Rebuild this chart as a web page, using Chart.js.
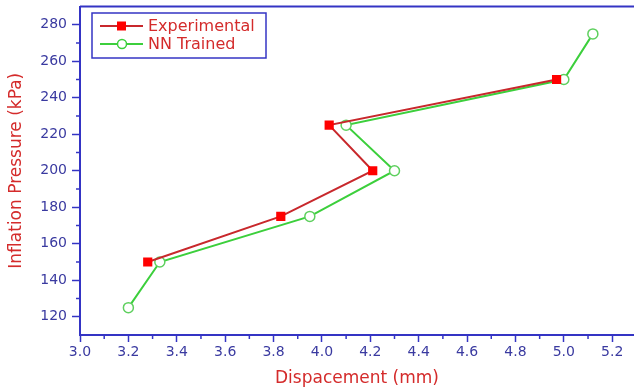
<!DOCTYPE html>
<html>
<head>
<meta charset="utf-8">
<script src="https://cdn.jsdelivr.net/npm/chart.js@4/dist/chart.umd.min.js"></script>
<style>
html,body{margin:0;padding:0;background:#fff;}
#wrap{position:relative;width:634px;height:389px;}
</style>
</head>
<body>
<div id="wrap"><canvas id="c" width="634" height="389"></canvas></div>
<script>
// ---- data ----
const expX = [3.28, 3.83, 4.21, 4.03, 4.97];
const expY = [150, 175, 200, 225, 250];
const nnX = [3.20, 3.33, 3.95, 4.30, 4.10, 5.00, 5.12];
const nnY = [125, 150, 175, 200, 225, 250, 275];
const xTicks = [3.0, 3.2, 3.4, 3.6, 3.8, 4.0, 4.2, 4.4, 4.6, 4.8, 5.0, 5.2];
const xMinorTicks = [3.1, 3.3, 3.5, 3.7, 3.9, 4.1, 4.3, 4.5, 4.7, 4.9, 5.1];
const yTicks = [120, 140, 160, 180, 200, 220, 240, 260, 280];
const yMinorTicks = [130, 150, 170, 190, 210, 230, 250, 270];
const seriesNames = ['Experimental', 'NN Trained'];
const xTitle = 'Dispacement (mm)';
const yTitle = 'Inflation Pressure (kPa)';

const AXIS = '#3434c4';
const TICKTXT = '#3a3aa0';
const TITLE = '#d42b2b';
const FONT = '"DejaVu Sans", sans-serif';

const toPts = (xs, ys) => xs.map((x, i) => ({x: x, y: ys[i]}));

const extras = {
  id: 'extras',
  afterLayout(chart) {
    // stretch plot area to the right edge of the canvas
    const xs = chart.scales.x;
    xs.right = chart.width;
    xs.width = xs.right - xs.left;
    xs.configure();
    chart.chartArea.right = xs.right;
    chart.chartArea.width = xs.right - chart.chartArea.left;
  },
  afterDraw(chart) {
    const ctx = chart.ctx, a = chart.chartArea;
    const xs = chart.scales.x, ys = chart.scales.y;
    ctx.save();
    ctx.strokeStyle = AXIS;
    ctx.lineWidth = 2;
    // top border
    ctx.beginPath();
    ctx.moveTo(a.left, a.top); ctx.lineTo(a.right, a.top); ctx.stroke();
    // minor ticks
    ctx.lineWidth = 1.5;
    xMinorTicks.forEach(v => {
      const px = xs.getPixelForValue(v);
      ctx.beginPath(); ctx.moveTo(px, a.bottom); ctx.lineTo(px, a.bottom + 4); ctx.stroke();
    });
    yMinorTicks.forEach(v => {
      const py = ys.getPixelForValue(v);
      ctx.beginPath(); ctx.moveTo(a.left, py); ctx.lineTo(a.left - 4, py); ctx.stroke();
    });
    // legend box
    const bx = 92, by = 13, bw = 174, bh = 45;
    ctx.lineWidth = 1.5;
    ctx.strokeRect(bx, by, bw, bh);
    const rows = [
      {name: seriesNames[0], line: '#c8282c', y: by + 13},
      {name: seriesNames[1], line: '#3ccf3c', y: by + 31}
    ];
    rows.forEach((r, i) => {
      ctx.strokeStyle = r.line; ctx.lineWidth = 2;
      ctx.beginPath(); ctx.moveTo(bx + 8, r.y); ctx.lineTo(bx + 51, r.y); ctx.stroke();
      if (i === 0) {
        ctx.fillStyle = '#ff0000';
        ctx.fillRect(bx + 25, r.y - 4.5, 9, 9);
      } else {
        ctx.fillStyle = '#fff'; ctx.lineWidth = 1.5;
        ctx.beginPath(); ctx.arc(bx + 30, r.y, 4.5, 0, Math.PI * 2); ctx.fill(); ctx.stroke();
      }
      ctx.fillStyle = TITLE;
      ctx.font = '16px ' + FONT;
      ctx.textBaseline = 'middle';
      ctx.textAlign = 'left';
      ctx.fillText(r.name, bx + 56, r.y + 1);
    });
    ctx.restore();
  }
};

new Chart(document.getElementById('c'), {
  type: 'scatter',
  data: {
    datasets: [
      {
        label: seriesNames[0],
        data: toPts(expX, expY),
        showLine: true,
        borderColor: '#c8282c',
        borderWidth: 2,
        pointStyle: 'rect',
        pointRadius: 6.5,
        pointBackgroundColor: '#ff0000',
        pointBorderColor: '#ff0000',
        pointBorderWidth: 0
      },
      {
        label: seriesNames[1],
        data: toPts(nnX, nnY),
        showLine: true,
        borderColor: '#3ccf3c',
        borderWidth: 2,
        pointStyle: 'circle',
        pointRadius: 5,
        pointBackgroundColor: '#ffffff',
        pointBorderColor: '#5fd05f',
        pointBorderWidth: 1.5
      }
    ]
  },
  options: {
    responsive: false,
    animation: false,
    layout: {padding: {top: 6, right: 0, left: 0, bottom: 0}},
    plugins: {legend: {display: false}, tooltip: {enabled: false}},
    scales: {
      x: {
        type: 'linear', min: 3.0, max: 5.29,
        afterBuildTicks: s => { s.ticks = xTicks.map(v => ({value: v})); },
        afterFit: s => { s.height = 54; s.paddingLeft = 0; s.paddingRight = 0; },
        ticks: {
          color: TICKTXT, font: {family: FONT, size: 14}, padding: 2,
          callback: v => Number(v).toFixed(1), maxRotation: 0, autoSkip: false
        },
        grid: {drawOnChartArea: false, drawTicks: true, tickLength: 7, color: AXIS, tickColor: AXIS, tickWidth: 1.5},
        border: {display: true, color: AXIS, width: 2},
        title: {display: true, text: xTitle, color: TITLE, font: {family: FONT, size: 17}, padding: {top: 6, bottom: 0}}
      },
      y: {
        type: 'linear', min: 110, max: 290,
        afterBuildTicks: s => { s.ticks = yTicks.map(v => ({value: v})); },
        afterFit: s => { s.width = 80; s.paddingTop = 0; s.paddingBottom = 0; },
        ticks: {color: TICKTXT, font: {family: FONT, size: 14}, padding: 5, autoSkip: false},
        grid: {drawOnChartArea: false, drawTicks: true, tickLength: 8, color: AXIS, tickColor: AXIS, tickWidth: 1.5},
        border: {display: true, color: AXIS, width: 2},
        title: {display: true, text: yTitle, color: TITLE, font: {family: FONT, size: 17}, padding: {top: 6, bottom: 2}}
      }
    }
  },
  plugins: [extras]
});
</script>
</body>
</html>
